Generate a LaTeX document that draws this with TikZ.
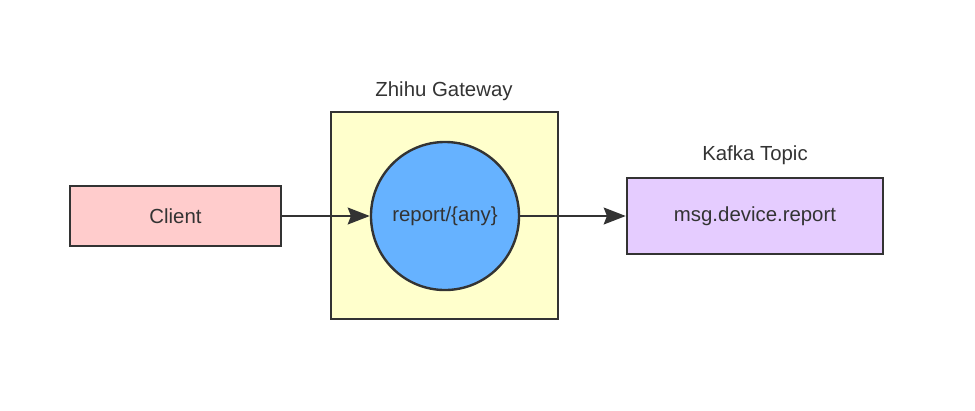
\documentclass[tikz,border=0pt]{standalone}
\usepackage{fontspec}
\setmainfont{Liberation Sans}
\usetikzlibrary{positioning,arrows.meta}
\definecolor{inkgray}{HTML}{333333}
\definecolor{clientfill}{HTML}{FFCCCC}
\definecolor{gatefill}{HTML}{FFFFCC}
\definecolor{routefill}{HTML}{66B2FF}
\definecolor{topicfill}{HTML}{E5CCFF}
\tikzset{
  box/.style     = {rectangle, draw=inkgray, line width=1.7pt, align=center,
                    text=inkgray, font=\fontsize{14.5}{16}\selectfont},
  route/.style   = {circle, draw=inkgray, line width=1.7pt, fill=routefill,
                    minimum size=3.7cm, inner sep=0pt, text=inkgray,
                    font=\fontsize{14.5}{16}\selectfont},
  caption/.style = {text=inkgray, font=\fontsize{14.5}{16}\selectfont},
  flow/.style    = {-{Stealth[length=5.5mm, width=4.2mm, inset=0.8mm]},
                    line width=1.7pt, inkgray},
}
\begin{document}
\begin{tikzpicture}[x=0.025cm, y=-0.025cm]
  \useasboundingbox (0,0) rectangle (975,410);

  % boxes
  \node[box, fill=clientfill, minimum width=5.275cm, minimum height=1.5cm]
       (client) at (175.5,216) {Client};
  \node[box, fill=gatefill, minimum width=5.675cm, minimum height=5.175cm]
       (gateway) at (444.5,215.5) {};
  \node[route] (route) at (445,216) {report/\{any\}};
  \node[box, fill=topicfill, minimum width=6.4cm, minimum height=1.9cm]
       (topic) at (755,216) {msg.device.report};

  % captions
  \node[caption] (gwlabel) at (444,91) {Zhihu Gateway};
  \node[caption] (topiclabel) at (755,155) {Kafka Topic};

  % flows
  \draw[flow] (client) -- (route);
  \draw[flow] (route) -- (topic);
\end{tikzpicture}
\end{document}
